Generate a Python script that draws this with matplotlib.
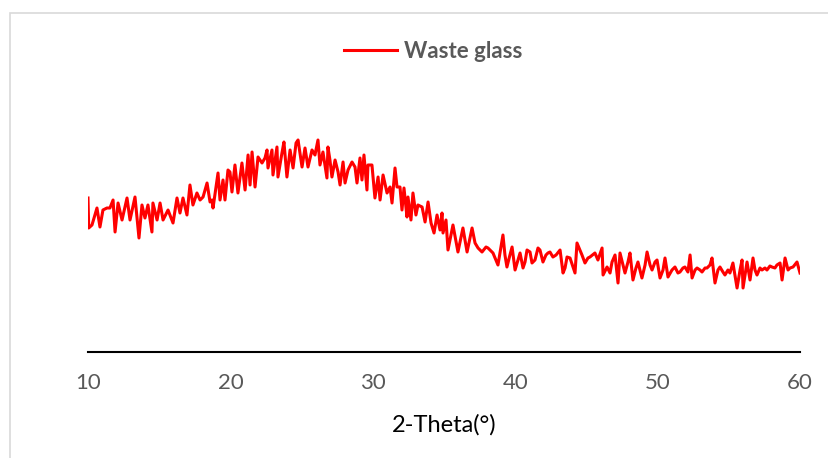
import matplotlib
matplotlib.use("Agg")
import matplotlib.pyplot as plt
from matplotlib.patches import Rectangle

# XRD pattern of waste glass (arbitrary units)
two_theta = [
    10.00, 10.05, 10.28, 10.63, 10.84, 11.05, 11.33, 11.54, 11.76, 11.90,
    12.11, 12.39, 12.74, 12.95, 13.30, 13.58, 13.79, 14.00, 14.21, 14.49,
    14.56, 14.85, 15.06, 15.27, 15.62, 15.97, 16.25, 16.46, 16.67, 16.95,
    17.16, 17.37, 17.65, 17.87, 18.08, 18.36, 18.57, 18.71, 18.78, 19.13,
    19.27, 19.48, 19.62, 19.83, 19.97, 20.11, 20.32, 20.53, 20.81, 21.03,
    21.24, 21.38, 21.52, 21.73, 21.94, 22.22, 22.43, 22.57, 22.64, 22.92,
    22.99, 23.27, 23.34, 23.62, 23.76, 23.97, 24.19, 24.40, 24.61, 24.75,
    25.03, 25.24, 25.45, 25.73, 25.94, 26.15, 26.29, 26.50, 26.78, 26.85,
    26.99, 27.13, 27.35, 27.56, 27.70, 27.91, 28.05, 28.26, 28.54, 28.75,
    28.89, 29.10, 29.24, 29.38, 29.59, 29.66, 29.94, 30.15, 30.37, 30.51,
    30.72, 31.00, 31.21, 31.35, 31.56, 31.70, 31.91, 32.05, 32.19, 32.40,
    32.47, 32.68, 32.82, 33.03, 33.17, 33.46, 33.67, 33.88, 34.09, 34.30,
    34.51, 34.72, 34.86, 34.93, 35.14, 35.28, 35.63, 35.98, 36.33, 36.62,
    36.97, 37.18, 37.39, 37.67, 37.95, 38.09, 38.44, 38.79, 39.14, 39.28,
    39.42, 39.63, 39.78, 39.99, 40.34, 40.55, 40.69, 40.83, 41.04, 41.18,
    41.39, 41.60, 41.74, 41.95, 42.16, 42.30, 42.44, 42.65, 42.87, 43.15,
    43.36, 43.50, 43.64, 43.85, 44.20, 44.34, 44.69, 44.90, 45.11, 45.25,
    45.60, 45.81, 46.10, 46.17, 46.45, 46.66, 46.80, 47.01, 47.22, 47.36,
    47.57, 47.71, 47.92, 48.06, 48.27, 48.48, 48.62, 48.90, 49.12, 49.26,
    49.47, 49.61, 49.82, 49.96, 50.17, 50.38, 50.52, 50.73, 51.01, 51.22,
    51.43, 51.57, 51.78, 51.92, 52.13, 52.28, 52.42, 52.63, 52.77, 52.98,
    53.12, 53.33, 53.47, 53.68, 53.82, 54.03, 54.24, 54.38, 54.59, 54.73,
    54.94, 55.08, 55.29, 55.58, 55.79, 55.93, 56.00, 56.14, 56.28, 56.49,
    56.70, 56.84, 56.98, 57.19, 57.33, 57.54, 57.68, 57.89, 58.03, 58.24,
    58.38, 58.60, 58.74, 58.95, 59.16, 59.30, 59.51, 59.79, 60.00,
]
intensity = [
    154, 124, 127, 144, 125, 142, 144, 144, 152, 120,
    149, 132, 154, 132, 155, 114, 147, 134, 147, 120,
    149, 132, 149, 132, 142, 129, 154, 139, 154, 137,
    167, 147, 159, 152, 155, 169, 150, 152, 144, 179,
    152, 172, 152, 182, 180, 160, 187, 159, 189, 162,
    197, 167, 200, 165, 195, 189, 194, 202, 184, 202,
    177, 205, 175, 199, 210, 175, 202, 184, 209, 212,
    185, 204, 185, 202, 197, 212, 187, 200, 174, 205,
    192, 175, 192, 180, 167, 190, 169, 182, 190, 185,
    169, 194, 172, 197, 162, 187, 187, 154, 175, 152,
    177, 159, 165, 149, 184, 165, 165, 142, 164, 135,
    155, 132, 159, 137, 147, 145, 130, 150, 129, 119,
    137, 122, 139, 119, 132, 102, 127, 100, 124, 100,
    124, 109, 104, 100, 105, 104, 99, 87, 117, 97,
    85, 97, 105, 82, 99, 84, 90, 102, 100, 89,
    92, 104, 102, 90, 97, 99, 100, 95, 97, 102,
    79, 84, 95, 94, 79, 109, 97, 89, 94, 95,
    99, 92, 104, 77, 85, 79, 90, 97, 69, 99,
    87, 79, 90, 99, 72, 84, 90, 74, 87, 100,
    87, 82, 90, 92, 74, 82, 94, 75, 82, 85,
    79, 80, 84, 85, 80, 97, 74, 82, 84, 82,
    80, 84, 84, 87, 94, 69, 82, 85, 80, 77,
    82, 79, 89, 64, 82, 92, 64, 77, 90, 72,
    94, 82, 77, 84, 82, 84, 82, 86, 85, 84,
    87, 89, 72, 94, 82, 84, 85, 90, 79,
]
xticks = [10, 20, 30, 40, 50, 60]

W, H = 829, 458
fig = plt.figure(figsize=(W / 100, H / 100), dpi=100)
plt.rcParams['font.family'] = ['Lato', 'DejaVu Sans']

# light grey chart frame (cut off at right and bottom like the screenshot)
fig.patches.append(Rectangle((10 / W, -0.2), 1.5, 1.2 - 13 / H,
                             transform=fig.transFigure, fill=False,
                             edgecolor='#d9d9d9', linewidth=1.2))

ax = fig.add_axes([88 / W, (H - 352) / H, 712 / W, 252 / H])
ax.plot(two_theta, intensity, color='#ff0000', linewidth=2.2,
        label='Waste glass')
ax.set_xlim(10, 60)
ax.set_ylim(0, 252)
ax.set_xticks(xticks)
ax.set_yticks([])
for side in ['left', 'right', 'top']:
    ax.spines[side].set_visible(False)
ax.spines['bottom'].set_color('black')
ax.spines['bottom'].set_linewidth(1.5)
ax.tick_params(axis='x', length=0, pad=15, labelsize=16, labelcolor='#595959')

fig.text(444 / W, 1 - 425 / H, '2-Theta(°)', ha='center', va='center',
         fontsize=17, color='black')

fig.legend(loc='center', bbox_to_anchor=(433 / W, 1 - 51 / H), frameon=False,
           handlelength=2.4, handletextpad=0.3,
           prop={'size': 16, 'weight': 'bold'}, labelcolor='#595959')

fig.savefig('out.png', dpi=100)
